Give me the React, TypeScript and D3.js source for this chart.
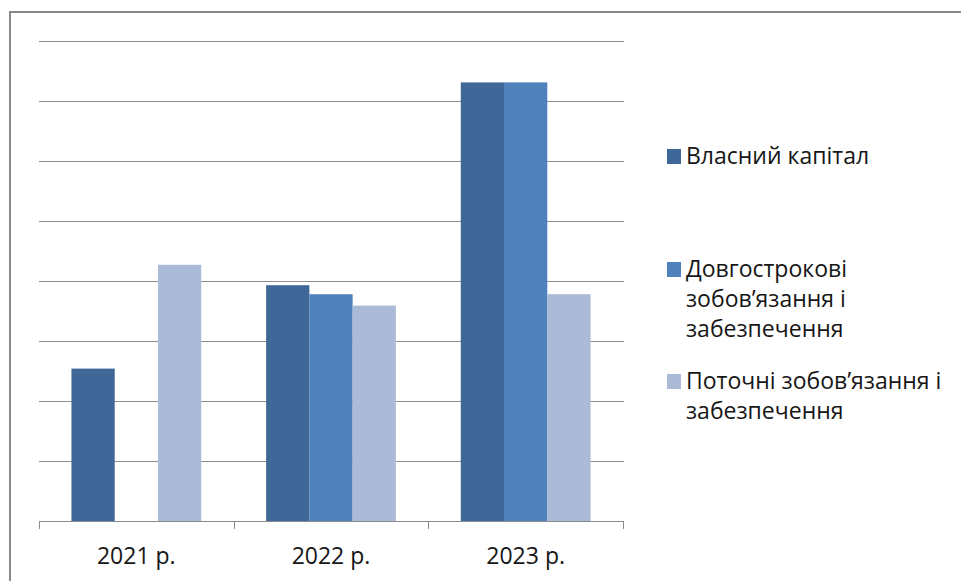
import React from "react";
import * as d3 from "d3";

const categories = ["2021 р.", "2022 р.", "2023 р."];
const seriesNames = [
  "Власний капітал",
  "Довгострокові зобов’язання і забезпечення",
  "Поточні зобов’язання і забезпечення",
];
const ownCapital = [2.54, 3.93, 7.31];
const longTerm = [0, 3.78, 7.31];
const currentLiab = [4.27, 3.59, 3.78];
const gridTicks = [0, 1, 2, 3, 4, 5, 6, 7, 8];
const legendLines = [
  ["Власний капітал"],
  ["Довгострокові", "зобов’язання і", "забезпечення"],
  ["Поточні зобов’язання і", "забезпечення"],
];
const colors = ["#3F6899", "#4F81BD", "#AABAD7"];

export default function App() {
  const W = 961, H = 581;
  const x = d3.scaleBand().domain(categories).range([39, 623]).paddingInner(0).paddingOuter(0);
  const x1 = d3.scaleBand().domain(seriesNames).range([0, x.bandwidth()]).paddingInner(0).paddingOuter(0.75);
  const y = d3.scaleLinear().domain([0, 8]).range([521, 41]);
  const data = [ownCapital, longTerm, currentLiab];
  const font = "'Open Sans', sans-serif";
  const legendBase = [164, 277, 389];
  const lineH = 30;
  return (
    <svg width={W} height={H} style={{ position: "absolute", left: 0, top: 0, background: "#fff" }}>
      <rect x={10} y={12} width={W} height={H} fill="#fff" stroke="#888" strokeWidth={2} />
      {gridTicks.map((t) => (
        <line key={t} x1={39} x2={624} y1={Math.round(y(t)) + 0.5} y2={Math.round(y(t)) + 0.5} stroke="#8c8c8c" strokeWidth={1} />
      ))}
      {categories.map((c, i) =>
        seriesNames.map((s, j) => {
          const v = data[j][i];
          if (!v) return null;
          return (
            <rect key={c + s} x={(x(c) as number) + (x1(s) as number)} y={y(v)} width={x1.bandwidth()} height={y(0) - y(v)} fill={colors[j]} />
          );
        })
      )}
      {[...categories.map((c) => x(c) as number), 623].map((tx, i) => (
        <line key={"t" + i} x1={Math.round(tx) + 0.5} x2={Math.round(tx) + 0.5} y1={521} y2={529} stroke="#8c8c8c" strokeWidth={1} />
      ))}
      {categories.map((c) => (
        <text key={c} x={(x(c) as number) + x.bandwidth() / 2} y={564} textAnchor="middle" fontFamily={font} fontSize={23} fill="#161616">{c}</text>
      ))}
      {legendLines.map((lines, i) => (
        <g key={i}>
          <rect x={667} y={legendBase[i] - 15} width={14} height={15} fill={colors[i]} />
          {lines.map((ln, k) => (
            <text key={k} x={686} y={legendBase[i] + k * lineH} fontFamily={font} fontSize={23} fill="#161616">{ln}</text>
          ))}
        </g>
      ))}
    </svg>
  );
}
